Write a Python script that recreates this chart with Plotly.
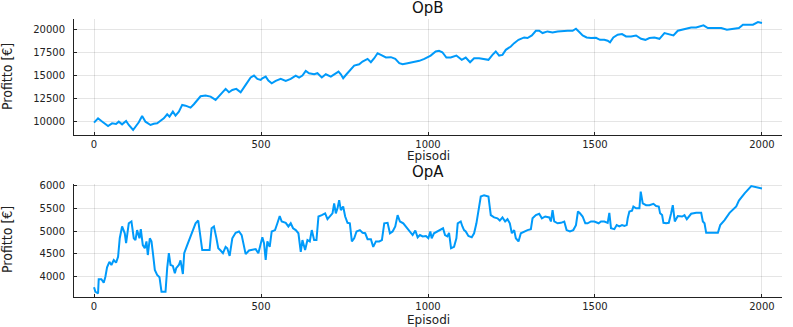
import plotly.graph_objects as go

# OpB: profitto per episodio
ep_b = [0, 12, 22, 34, 42, 54, 66, 74, 84, 96, 104, 117, 124, 134, 144, 154, 169, 179, 189, 199,
        209, 219, 226, 236, 244, 254, 264, 274, 289, 299, 309, 319, 334, 349, 364, 374, 384, 394, 404, 414,
        426, 439, 454, 469, 479, 489, 499, 504, 514, 522, 532, 544, 559, 574, 589, 604, 614, 624, 634, 644,
        659, 669, 682, 694, 709, 719, 732, 739, 746, 756, 766, 779, 794, 804, 819, 829, 839, 849, 859, 874,
        889, 902, 914, 924, 939, 959, 974, 989, 1008, 1023, 1033, 1043, 1055, 1068, 1085, 1101, 1113, 1126, 1138, 1153,
        1168, 1181, 1193, 1203, 1213, 1223, 1233, 1248, 1258, 1271, 1288, 1298, 1311, 1323, 1333, 1343, 1358, 1373, 1388, 1403,
        1418, 1433, 1443, 1453, 1463, 1475, 1488, 1503, 1515, 1528, 1538, 1545, 1555, 1568, 1581, 1593, 1608, 1623, 1638, 1651,
        1663, 1678, 1693, 1708, 1723, 1735, 1748, 1763, 1775, 1788, 1803, 1818, 1825, 1838, 1858, 1878, 1895, 1913, 1931, 1943,
        1958, 1973, 1988, 2000]
profit_b = [9890, 10360, 10070, 9710, 9530, 9820, 9750, 10000, 9710, 10070, 9640, 9100, 9460, 9930, 10610, 10000, 9640, 9780, 9820, 10070,
            10360, 10800, 10540, 11080, 10650, 11080, 11810, 11730, 11520, 11880, 12350, 12740, 12820, 12710, 12350, 12710, 13070, 13540, 13180, 13430,
            13540, 13180, 13970, 14770, 14980, 14620, 14510, 14690, 14870, 14440, 14150, 14400, 14620, 14400, 14620, 14980, 14770, 14980, 15480, 15230,
            15120, 15230, 14770, 15120, 14870, 15120, 15410, 15120, 14690, 15120, 15480, 16050, 16200, 16490, 16780, 16420, 16850, 17390, 17210, 16930,
            16970, 16780, 16320, 16200, 16320, 16420, 16570, 16780, 17140, 17580, 17650, 17500, 16930, 16930, 17140, 16680, 16930, 16420, 16850, 16850,
            16780, 16680, 17210, 17580, 17140, 17210, 17760, 18120, 18480, 18840, 19100, 19030, 19310, 19820, 19820, 19570, 19750, 19640, 19750, 19820,
            19820, 19820, 20040, 19680, 19310, 19100, 19030, 19060, 18840, 18840, 18740, 18560, 19100, 19390, 19460, 19210, 19210, 19310, 18950, 18840,
            19030, 19100, 18950, 19570, 19460, 19310, 19820, 19930, 20040, 20180, 20180, 20290, 20400, 20110, 20110, 20110, 19930, 20040, 20110, 20470,
            20470, 20470, 20760, 20650]

# OpA
ep_a = [0, 4, 12, 14, 22, 29, 34, 39, 46, 52, 59, 66, 72, 77, 84, 92, 96, 104, 112, 119,
        124, 129, 136, 140, 146, 152, 157, 161, 167, 172, 177, 182, 189, 196, 202, 214, 219, 224, 229, 236,
        242, 246, 254, 259, 266, 270, 279, 289, 296, 304, 312, 317, 324, 334, 346, 352, 359, 366, 372, 379,
        386, 394, 399, 406, 414, 424, 434, 442, 449, 454, 464, 474, 484, 492, 499, 504, 509, 514, 519, 526,
        532, 542, 549, 556, 562, 574, 582, 589, 596, 604, 612, 619, 624, 632, 639, 646, 652, 659, 666, 672,
        682, 692, 699, 706, 714, 719, 724, 729, 734, 739, 746, 752, 759, 766, 772, 779, 786, 796, 804, 812,
        819, 829, 836, 844, 854, 862, 869, 879, 886, 894, 902, 909, 916, 926, 934, 944, 954, 962, 969, 976,
        984, 994, 1001, 1007, 1011, 1018, 1028, 1038, 1045, 1051, 1058, 1063, 1069, 1078, 1085, 1089, 1098, 1103, 1108, 1113,
        1121, 1131, 1138, 1145, 1151, 1158, 1168, 1181, 1188, 1198, 1208, 1215, 1223, 1231, 1238, 1245, 1251, 1258, 1263, 1271,
        1278, 1288, 1298, 1308, 1313, 1323, 1333, 1341, 1351, 1363, 1368, 1373, 1378, 1388, 1398, 1408, 1415, 1425, 1435, 1443,
        1449, 1455, 1463, 1471, 1478, 1488, 1498, 1511, 1518, 1528, 1538, 1543, 1548, 1558, 1565, 1573, 1581, 1588, 1595, 1598,
        1603, 1611, 1615, 1623, 1633, 1637, 1643, 1653, 1663, 1675, 1683, 1691, 1695, 1701, 1705, 1713, 1721, 1728, 1733, 1739,
        1748, 1761, 1768, 1775, 1788, 1803, 1818, 1823, 1828, 1833, 1848, 1868, 1875, 1888, 1903, 1923, 1931, 1948, 1968, 2000]
profit_a = [3760, 3660, 3620, 3935, 3935, 3860, 3990, 4200, 4320, 4250, 4360, 4300, 4430, 4840, 5100, 4950, 4730, 5170, 5210, 4840,
            4800, 5020, 4840, 5040, 4690, 4620, 4770, 4470, 4840, 4770, 4470, 4140, 4030, 3980, 3660, 3660, 4180, 4510, 4250, 4230,
            4070, 4180, 4250, 4350, 4050, 4510, 4690, 4880, 4990, 5170, 5230, 4990, 4580, 4580, 4580, 5060, 5100, 4860, 4620, 4570,
            4510, 4650, 4620, 4450, 4840, 4960, 4990, 4910, 4650, 4490, 4570, 4580, 4600, 4510, 4730, 4860, 4730, 4360, 4770, 4650,
            4990, 5020, 5170, 5330, 5210, 5180, 5100, 5170, 5060, 5020, 4950, 4540, 4800, 4580, 4800, 4770, 5020, 4800, 4800, 5320,
            5350, 5390, 5260, 5330, 5390, 5610, 5390, 5500, 5680, 5460, 5540, 5320, 5180, 5170, 4770, 4840, 4990, 5020, 4960, 4950,
            4820, 4820, 4650, 4770, 4770, 4800, 5170, 5180, 4950, 4990, 5100, 5350, 5210, 5170, 5100, 4990, 4910, 5010, 4860, 4910,
            4880, 4890, 4840, 4990, 4840, 4950, 4990, 5040, 5060, 4910, 4880, 4960, 4620, 4650, 4840, 5170, 5210, 5100, 5020, 4990,
            4890, 4860, 4950, 5170, 5430, 5760, 5790, 5760, 5350, 5300, 5280, 5230, 5300, 5210, 5260, 5170, 4950, 5020, 4840, 4770,
            4950, 4990, 5020, 5040, 5280, 5350, 5380, 5280, 5320, 5300, 5210, 5460, 5210, 5170, 5180, 5210, 5020, 4990, 5020, 5130,
            5430, 5390, 5320, 5170, 5170, 5210, 5210, 5170, 5210, 5210, 5180, 5400, 5060, 5040, 5130, 5100, 5130, 5110, 5130, 5280,
            5430, 5450, 5540, 5500, 5500, 5870, 5610, 5570, 5570, 5600, 5550, 5540, 5390, 5350, 5180, 5170, 5180, 5390, 5570, 5210,
            5330, 5320, 5350, 5260, 5380, 5400, 5400, 5210, 5170, 4960, 4960, 4960, 5130, 5240, 5400, 5540, 5670, 5830, 5990, 5940]

x_ticks = [0, 500, 1000, 1500, 2000]
yb_ticks = [10000, 12500, 15000, 17500, 20000]
ya_ticks = [4000, 4500, 5000, 5500, 6000]

W, H = 793, 327
BLUE = "#009AFA"
tick_font = dict(family="DejaVu Sans", size=10, color="#222")
label_font = dict(family="DejaVu Sans", size=12, color="#222")
title_font = dict(family="DejaVu Sans", size=15, color="#111")
ylab_font = dict(family="Liberation Sans Narrow, DejaVu Sans Condensed, sans-serif", size=14, color="#222")

fig = go.Figure()
fig.add_trace(go.Scatter(x=ep_b, y=profit_b, mode="lines", line=dict(color=BLUE, width=2),
                         xaxis="x", yaxis="y", showlegend=False))
fig.add_trace(go.Scatter(x=ep_a, y=profit_a, mode="lines", line=dict(color=BLUE, width=2),
                         xaxis="x2", yaxis="y2", showlegend=False))

def px_y(p):
    return (H - p) / H

xdom = [74 / W, 782 / W]
ax_common = dict(showgrid=True, gridcolor="rgba(0,0,0,0.1)", gridwidth=1,
                 showline=True, linecolor="#222", linewidth=1, zeroline=False,
                 ticks="inside", ticklen=3, tickcolor="#222", tickfont=tick_font,
                 tickformat="d", automargin=False)

fig.update_layout(
    width=W, height=H,
    margin=dict(l=0, r=0, t=0, b=0),
    paper_bgcolor="white", plot_bgcolor="white",
    xaxis=dict(domain=xdom, anchor="y", range=[-60, 2060], tickvals=x_ticks, **ax_common),
    yaxis=dict(domain=[px_y(135), px_y(19)], anchor="x", range=[8560, 21090], tickvals=yb_ticks,
               ticklabelstandoff=6, **ax_common),
    xaxis2=dict(domain=xdom, anchor="y2", range=[-60, 2060], tickvals=x_ticks, **ax_common),
    yaxis2=dict(domain=[px_y(297.3), px_y(184)], anchor="x2", range=[3537, 6037], tickvals=ya_ticks,
                ticklabelstandoff=6, **ax_common),
)

xc = (xdom[0] + xdom[1]) / 2
notes = [
    dict(text="OpB", x=xc, y=px_y(8), font=title_font),
    dict(text="OpA", x=xc, y=px_y(172), font=title_font),
    dict(text="Episodi", x=xc, y=px_y(156), font=label_font),
    dict(text="Episodi", x=xc, y=px_y(320), font=label_font),
    dict(text="Profitto [€]", x=7 / W, y=px_y(77), textangle=-90, font=ylab_font),
    dict(text="Profitto [€]", x=7 / W, y=px_y(240), textangle=-90, font=ylab_font),
]
for n in notes:
    fig.add_annotation(xref="paper", yref="paper", showarrow=False,
                       xanchor="center", yanchor="middle", **n)

# la pagina ha un margine di 8px di default: lo azzeriamo
fig.write_html("out.html", config={"displayModeBar": False},
               post_script="document.body.style.margin='0';")
